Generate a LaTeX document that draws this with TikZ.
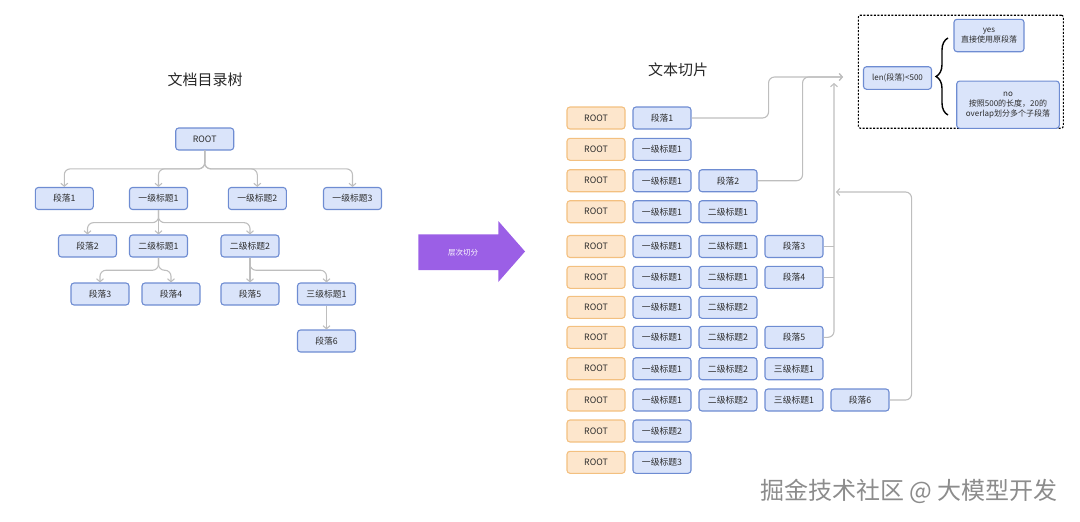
\documentclass[tikz,border=0pt]{standalone}
\usepackage{fontspec}
\setmainfont{Noto Sans CJK SC}
\usepackage{tikz}
\usetikzlibrary{arrows.meta, decorations.pathreplacing}
\tikzset{>={Straight Barb[length=3pt,width=7pt]}}
\definecolor{myblue}{RGB}{218, 228, 250}
\definecolor{myblue2}{RGB}{110, 140, 210}
\definecolor{myorange}{RGB}{253, 230, 204}
\definecolor{myorange2}{RGB}{243, 192, 128}
\definecolor{mygray}{RGB}{190, 190, 190}
\definecolor{mytext}{RGB}{45, 45, 45}
\definecolor{mypurple}{RGB}{155, 95, 230}
\tikzset{
box/.style={draw=myblue2, fill=myblue, line width=1.1pt, rounded corners=3pt, minimum width=58pt, minimum height=22pt, inner sep=0pt, text=mytext, font=\fontsize{8.8}{10}\selectfont},
rootbox/.style={box, draw=myorange2, fill=myorange},
conn/.style={draw=mygray, line width=1.1pt, rounded corners=6pt},
title/.style={font=\fontsize{15}{18}\selectfont, text=black!85}
}

\begin{document}
\begin{tikzpicture}[x=1pt, y=-1pt]
\useasboundingbox (0,0) rectangle (1080,522);
\begin{scope}
\node[title] (lefttitle) at (205,80) {文档目录树};
\node[box] (root) at (204.7,139) {ROOT};
\node[box] (p1) at (64.3,198.5) {段落1};
\node[box] (h1a) at (158.5,198.5) {一级标题1};
\node[box] (h1b) at (257.3,198.5) {一级标题2};
\node[box] (h1c) at (352.5,198.5) {一级标题3};
\node[box] (p2) at (87.5,246) {段落2};
\node[box] (h2a) at (158.5,246) {二级标题1};
\node[box] (h2b) at (250,246) {二级标题2};
\node[box] (p3) at (100,294) {段落3};
\node[box] (p4) at (171,294) {段落4};
\node[box] (p5) at (250,294) {段落5};
\node[box] (h3a) at (326.5,294) {三级标题1};
\node[box] (p6) at (326.5,341) {段落6};
\foreach \c in {p1, h1a, h1b, h1c}{
\draw[conn, ->] (root.south) -- ++(0,18.3) -| (\c.north);
}
\foreach \c in {p2, h2b}{
\draw[conn, ->] (h1a.south) -- ++(0,12.6) -| (\c.north);
}
\draw[conn, ->] (h1a.south) -- (h2a.north);
\foreach \c in {p3, p4}{
\draw[conn, ->] (h2a.south) -- ++(0,12.7) -| (\c.north);
}
\draw[conn, ->] (h2b.south) -- (p5.north);
\draw[conn, ->] (h2b.south) -- ++(0,12.7) -| (h3a.north);
\draw[conn, ->] (h3a.south) -- (p6.north);
\end{scope}

\fill[mypurple] (418.3,234.3) -- (498.3,234.3) -- (498.3,221) -- (525,251.5) -- (498.3,282) -- (498.3,270) -- (418.3,270) -- cycle;
\node[text=white, font=\fontsize{7.5}{9}\selectfont] (split) at (463,253) {层次切分};

\begin{scope}
\node[title] (righttitle) at (678,70) {文本切片};
\foreach \i/\y in {1/118, 2/149.3, 3/180.7, 4/211.7, 5/246.5, 6/277.3, 7/307.3, 8/337.3, 9/368.7, 10/400, 11/431, 12/462.3}{
\node[rootbox] (a\i) at (596,\y) {ROOT};
}
\node[box] (b1) at (662,118) {段落1};
\foreach \i/\y in {2/149.3, 3/180.7, 4/211.7, 5/246.5, 6/277.3, 7/307.3, 8/337.3, 9/368.7, 10/400}{
\node[box] (b\i) at (662,\y) {一级标题1};
}
\node[box] (b11) at (662,431) {一级标题2};
\node[box] (b12) at (662,462.3) {一级标题3};
\node[box] (c3) at (728,180.7) {段落2};
\foreach \i/\y in {4/211.7, 5/246.5, 6/277.3}{
\node[box] (c\i) at (728,\y) {二级标题1};
}
\foreach \i/\y in {7/307.3, 8/337.3, 9/368.7, 10/400}{
\node[box] (c\i) at (728,\y) {二级标题2};
}
\node[box] (d5) at (794,246.5) {段落3};
\node[box] (d6) at (794,277.3) {段落4};
\node[box] (d8) at (794,337.3) {段落5};
\node[box] (d9) at (794,368.7) {三级标题1};
\node[box] (d10) at (794,400) {三级标题1};
\node[box] (e10) at (860,400) {段落6};
\coordinate (in) at (843,77);
\coordinate (up) at (834,83);
\coordinate (back) at (836,192);
\draw[conn, ->] (b1.east) -- ++(77,0) |- (in);
\draw[conn, ->] (c3.east) -- ++(45,0) |- (in);
\draw[conn, ->] (d8.east) -| (up);
\draw[conn] (d5.east) -- (d5.east -| up);
\draw[conn] (d6.east) -- (d6.east -| up);
\draw[conn, ->] (e10.east) -- ++(22,0) |- (back);
\end{scope}

\begin{scope}
\node[draw, dash pattern=on 2pt off 1.5pt, line width=1.1pt, rounded corners=2pt, minimum width=205pt, minimum height=113pt] (frame) at (960.8,71.7) {};
\node[box, font=\fontsize{8}{10}\selectfont, minimum width=68pt, minimum height=22.6pt] (len) at (897.5,78) {len(段落)<500};
\node[box, font=\fontsize{8}{10}\selectfont, align=center, minimum width=70pt, minimum height=32.4pt] (yes) at (989,35.5) {yes\\直接使用原段落};
\node[box, font=\fontsize{8}{10}\selectfont, align=center, minimum width=102.6pt, minimum height=47.3pt] (no) at (1008,104.7) {no\\按照500的长度，20的\\overlap划分多个子段落};
\draw[decorate, decoration={brace, amplitude=12pt}, line width=1.4pt] (948,115) -- (948,38);
\end{scope}

\node[text=gray!90, font=\fontsize{24}{28}\selectfont] (mark) at (909,491.7) {掘金技术社区 @ 大模型开发};
\end{tikzpicture}
\end{document}
